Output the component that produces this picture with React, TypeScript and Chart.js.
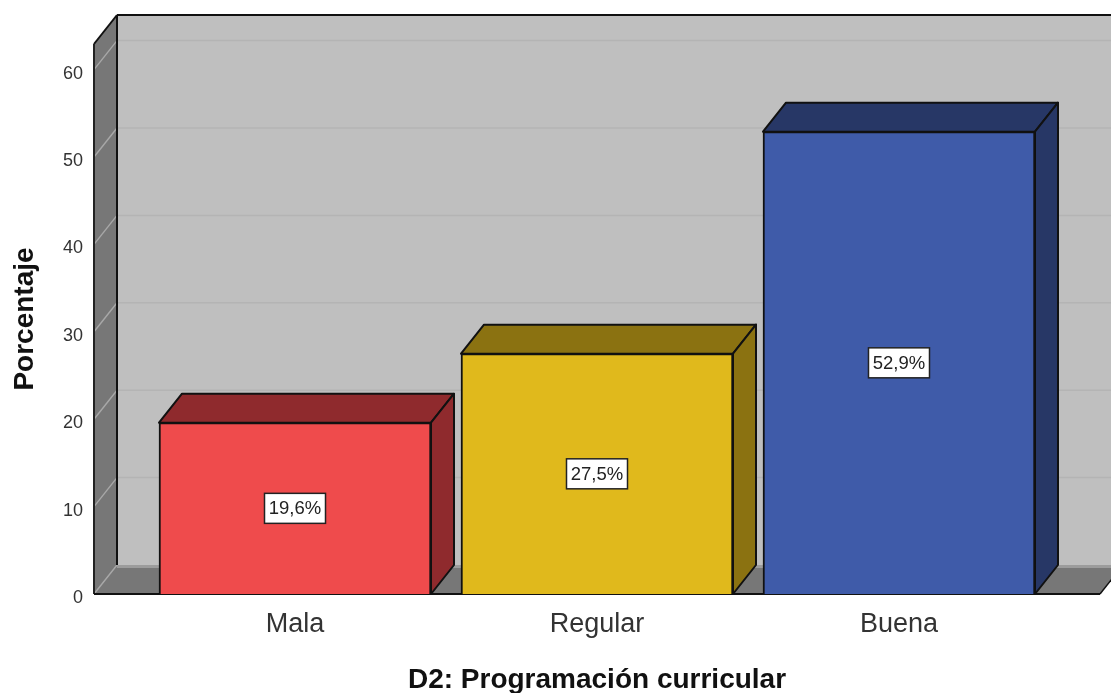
import React, { useEffect, useRef } from "react";
import { Chart, registerables } from "chart.js";

Chart.register(...registerables);

const categories = ["Mala", "Regular", "Buena"];
const percentages = [19.6, 27.5, 52.9];
const frontColors = ["#ef4b4c", "#e0b91c", "#3f5ba9"];
const sideColors = ["#8f2a2d", "#8b7211", "#273766"];
const yTicks = [0, 10, 20, 30, 40, 50, 60];
const xTitle = "D2: Programación curricular";
const yTitle = "Porcentaje";

const DX = 23;
const DY = -29;
const FONT = '"Liberation Sans", Arial, sans-serif';

function poly(ctx: CanvasRenderingContext2D, pts: number[][], fill?: string, stroke?: string, lw = 2) {
  ctx.beginPath();
  pts.forEach((p, i) => (i ? ctx.lineTo(p[0], p[1]) : ctx.moveTo(p[0], p[1])));
  ctx.closePath();
  if (fill) {
    ctx.fillStyle = fill;
    ctx.fill();
  }
  if (stroke) {
    ctx.strokeStyle = stroke;
    ctx.lineWidth = lw;
    ctx.lineJoin = "round";
    ctx.stroke();
  }
}

function line(ctx: CanvasRenderingContext2D, x1: number, y1: number, x2: number, y2: number, c: string, lw: number) {
  ctx.beginPath();
  ctx.moveTo(x1, y1);
  ctx.lineTo(x2, y2);
  ctx.strokeStyle = c;
  ctx.lineWidth = lw;
  ctx.stroke();
}

const box3d = {
  id: "box3d",
  beforeDatasetsDraw(chart: any) {
    const { ctx, chartArea: a, scales } = chart;
    const { left: l, right: r, top: t, bottom: b } = a;
    ctx.save();
    // back wall
    ctx.fillStyle = "#bfbfbf";
    ctx.fillRect(l + DX, t + DY, r - l, b - t);
    // floor
    poly(ctx, [[l, b], [r, b], [r + DX, b + DY], [l + DX, b + DY]], "#777777");
    ctx.fillStyle = "#9c9c9c";
    ctx.fillRect(l + DX, b + DY, r - l, 3);
    // left wall
    poly(ctx, [[l, b], [l, t], [l + DX, t + DY], [l + DX, b + DY]], "#777777");
    // grid lines, back wall and side wall
    yTicks.forEach((v) => {
      const y = scales.y.getPixelForValue(v);
      if (v > 0) line(ctx, l + DX, y + DY, r + DX, y + DY, "#b4b4b4", 1.5);
      line(ctx, l, y, l + DX, y + DY, "#a8a8a8", 1.4);
    });
    // frame
    line(ctx, l + DX, t + DY, r + DX + 2, t + DY, "#111111", 2);
    line(ctx, l + DX, t + DY, l + DX, b + DY, "#111111", 2);
    line(ctx, l, t, l + DX, t + DY, "#111111", 2);
    line(ctx, l, t, l, b, "#222222", 2);
    line(ctx, l, b, r, b, "#111111", 2);
    line(ctx, r, b, r + DX, b + DY, "#111111", 1.5);
    // bar sides
    chart.getDatasetMeta(0).data.forEach((bar: any, i: number) => {
      const x0 = bar.x - bar.width / 2;
      const x1 = bar.x + bar.width / 2;
      poly(ctx, [[x0, bar.y], [x1, bar.y], [x1 + DX, bar.y + DY], [x0 + DX, bar.y + DY]], sideColors[i], "#111111");
      poly(ctx, [[x1, bar.y], [x1 + DX, bar.y + DY], [x1 + DX, bar.base + DY], [x1, bar.base]], sideColors[i], "#111111");
    });
    ctx.restore();
  },
  afterDatasetsDraw(chart: any) {
    const { ctx } = chart;
    ctx.save();
    ctx.font = `18.5px ${FONT}`;
    ctx.textAlign = "center";
    ctx.textBaseline = "middle";
    chart.getDatasetMeta(0).data.forEach((bar: any, i: number) => {
      const cy = (bar.y + bar.base) / 2;
      const w = 61;
      const h = 30;
      ctx.fillStyle = "#ffffff";
      ctx.fillRect(bar.x - w / 2, cy - h / 2, w, h);
      ctx.strokeStyle = "#222222";
      ctx.lineWidth = 1.5;
      ctx.strokeRect(bar.x - w / 2, cy - h / 2, w, h);
      ctx.fillStyle = "#222222";
      ctx.fillText(`${percentages[i].toFixed(1).replace(".", ",")}%`, bar.x, cy + 1);
    });
    ctx.restore();
  },
};

export default function App() {
  const ref = useRef<HTMLCanvasElement>(null);
  useEffect(() => {
    const chart = new Chart(ref.current as HTMLCanvasElement, {
      type: "bar",
      plugins: [box3d],
      data: {
        datasets: [
          {
            data: percentages.map((y, x) => ({ x, y })),
            backgroundColor: frontColors,
            borderColor: "#111111",
            borderWidth: 2,
            barThickness: 272,
          },
        ],
      },
      options: {
        animation: false,
        responsive: false,
        layout: { padding: { top: 44, right: 11, left: 0, bottom: 0 } },
        plugins: { legend: { display: false }, tooltip: { enabled: false } },
        scales: {
          x: {
            type: "linear",
            offset: false,
            min: -0.6656,
            max: 2.6656,
            grid: { display: false, offset: false },
            border: { display: false },
            afterBuildTicks: (s: any) => {
              s.ticks = categories.map((_, i) => ({ value: i }));
            },
            afterFit: (s: any) => {
              s.height = 99;
              s.paddingLeft = 0;
              s.paddingRight = 0;
            },
            ticks: {
              autoSkip: false,
              maxRotation: 0,
              padding: 6,
              color: "#333333",
              font: { family: FONT, size: 27 },
              callback: (v: any) => categories[v],
            },
            title: {
              display: true,
              text: xTitle,
              color: "#111111",
              font: { family: FONT, size: 28, weight: "bold" },
              padding: { top: 20, bottom: -4 },
            },
          },
          y: {
            min: 0,
            max: 62.93,
            grid: { display: false },
            border: { display: false },
            afterBuildTicks: (s: any) => {
              s.ticks = yTicks.map((value) => ({ value }));
            },
            afterFit: (s: any) => {
              s.width = 94;
            },
            ticks: {
              padding: 3,
              labelOffset: 4,
              color: "#333333",
              font: { family: FONT, size: 18 },
            },
            title: {
              display: true,
              text: yTitle,
              color: "#111111",
              font: { family: FONT, size: 28, weight: "bold" },
              padding: { top: 8, bottom: 0 },
            },
          },
        },
      },
    } as any);
    return () => chart.destroy();
  }, []);
  return (
    <canvas
      ref={ref}
      width={1111}
      height={693}
      style={{ position: "absolute", left: 0, top: 0, display: "block" }}
    />
  );
}
